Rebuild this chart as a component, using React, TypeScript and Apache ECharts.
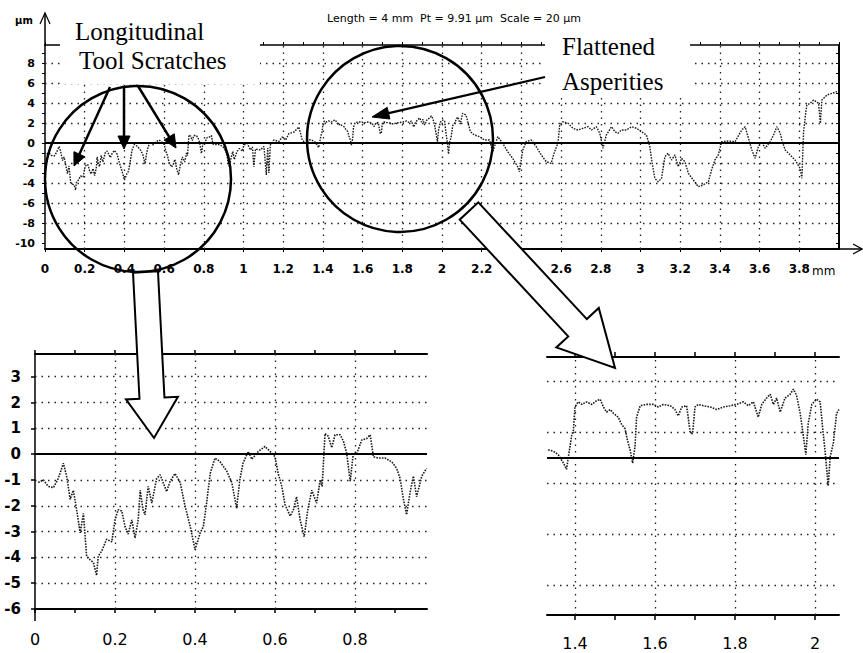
import React, { useEffect, useRef } from 'react';
import * as echarts from 'echarts';

// ---- profile data (x in mm, height in µm) ----
const leftX = [0.008, 0.021, 0.033, 0.046, 0.058, 0.071, 0.079, 0.088, 0.096, 0.104, 0.113, 0.121, 0.129, 0.138, 0.146, 0.154, 0.158, 0.167, 0.179, 0.192, 0.2, 0.208, 0.217, 0.225, 0.233, 0.242, 0.25, 0.258, 0.263, 0.27, 0.275, 0.283, 0.292, 0.304, 0.313, 0.329, 0.338, 0.35, 0.363, 0.375, 0.388, 0.4, 0.413, 0.421, 0.429, 0.438, 0.45, 0.463, 0.479, 0.492, 0.504, 0.512, 0.52, 0.533, 0.542, 0.558, 0.575, 0.588, 0.6, 0.608, 0.617, 0.625, 0.638, 0.646, 0.654, 0.663, 0.673, 0.682, 0.692, 0.704, 0.713, 0.718, 0.725, 0.733, 0.742, 0.75, 0.763, 0.771, 0.779, 0.788, 0.796, 0.804, 0.817, 0.829, 0.838, 0.846, 0.858, 0.875, 0.892, 0.904, 0.913, 0.921, 0.929, 0.938, 0.946, 0.954, 0.967, 0.979];
const leftY = [-1.1, -1.0, -1.25, -1.3, -0.95, -0.35, -0.85, -1.75, -1.4, -2.15, -3.05, -2.3, -3.95, -4.1, -4.2, -4.7, -3.95, -3.75, -3.3, -3.4, -2.55, -2.15, -2.2, -2.8, -3.1, -2.55, -3.25, -2.55, -1.4, -2.15, -2.35, -1.25, -1.9, -0.95, -0.8, -1.45, -1.05, -0.75, -1.1, -2.0, -2.8, -3.7, -3.05, -2.8, -1.9, -0.75, -0.15, -0.3, -0.65, -1.1, -2.1, -1.0, -0.35, 0.1, -0.2, 0.1, 0.3, 0.1, -0.1, -0.75, -1.25, -1.95, -2.4, -2.15, -1.65, -2.55, -3.2, -2.15, -1.4, -1.9, -1.0, -1.25, 0.8, 0.7, 0.25, 0.75, 0.75, 0.5, 0.05, -1.05, 0.05, 0.0, 0.55, 0.6, 0.75, -0.1, -0.15, -0.15, -0.3, -0.55, -0.95, -1.75, -2.35, -1.45, -0.85, -1.65, -0.85, -0.55];

const midX = [0.995, 1.002, 1.019, 1.035, 1.045, 1.052, 1.06, 1.086, 1.103, 1.115, 1.122, 1.128, 1.135, 1.153, 1.178, 1.195, 1.212, 1.229, 1.254, 1.279, 1.296, 1.313];
const midY = [-0.8, -0.2, -0.05, -0.7, -0.4, -2.4, -0.6, -0.7, -0.35, -3.2, -0.5, -3.0, -0.2, 0.3, 0.15, 0.6, 0.3, 0.95, 1.1, 1.6, 0.3, -0.03];

const rightX = [1.333, 1.346, 1.358, 1.371, 1.379, 1.383, 1.392, 1.396, 1.4, 1.408, 1.417, 1.429, 1.442, 1.454, 1.463, 1.471, 1.479, 1.488, 1.496, 1.508, 1.517, 1.525, 1.531, 1.538, 1.544, 1.55, 1.554, 1.563, 1.579, 1.596, 1.608, 1.621, 1.638, 1.65, 1.658, 1.667, 1.679, 1.688, 1.694, 1.7, 1.708, 1.721, 1.738, 1.754, 1.771, 1.788, 1.804, 1.821, 1.833, 1.846, 1.858, 1.867, 1.879, 1.888, 1.896, 1.904, 1.913, 1.925, 1.938, 1.946, 1.954, 1.963, 1.971, 1.977, 1.983, 1.992, 2.004, 2.013, 2.019, 2.025, 2.029, 2.033, 2.038, 2.046, 2.054, 2.06];
const rightY = [0.32, 0.26, 0.13, -0.2, -0.45, 0.0, 0.9, 1.1, 2.0, 2.2, 2.1, 2.2, 2.1, 2.25, 2.3, 2.0, 1.8, 1.9, 1.75, 1.6, 1.3, 1.15, 0.7, 0.3, -0.2, 0.45, 1.6, 2.05, 2.1, 2.1, 2.0, 2.1, 2.05, 1.9, 1.65, 2.0, 2.05, 1.0, 0.95, 2.0, 2.1, 2.05, 2.0, 1.9, 2.0, 2.05, 2.1, 2.2, 2.05, 2.2, 1.6, 2.1, 2.35, 2.5, 2.1, 2.35, 1.8, 2.35, 2.5, 2.7, 2.45, 1.75, 0.85, 0.13, 1.35, 2.1, 2.3, 2.2, 1.2, 0.3, -0.4, -1.1, 0.05, 0.6, 1.75, 1.9];

const farX = [2.079, 2.092, 2.104, 2.121, 2.143, 2.163, 2.189, 2.214, 2.239, 2.256, 2.281, 2.306, 2.331, 2.356, 2.381, 2.39, 2.407, 2.424, 2.449, 2.475, 2.5, 2.525, 2.55, 2.567, 2.584, 2.593, 2.609, 2.635, 2.66, 2.685, 2.71, 2.736, 2.753, 2.778, 2.795, 2.811, 2.828, 2.854, 2.871, 2.887, 2.904, 2.929, 2.955, 2.98, 3.005, 3.03, 3.047, 3.059, 3.072, 3.089, 3.106, 3.123, 3.139, 3.156, 3.173, 3.19, 3.207, 3.224, 3.241, 3.266, 3.291, 3.316, 3.342, 3.358, 3.375, 3.392, 3.409, 3.443, 3.476, 3.51, 3.527, 3.544, 3.561, 3.577, 3.594, 3.611, 3.628, 3.653, 3.67, 3.687, 3.704, 3.712, 3.729, 3.754, 3.779, 3.804, 3.813, 3.821, 3.83, 3.838, 3.855, 3.872, 3.897, 3.906, 3.914, 3.939, 3.965, 3.99];
const farY = [2.6, 1.9, 2.97, 2.8, 1.13, 0.8, 0.63, 0.3, 0.3, -0.87, 0.63, -0.03, -0.87, -1.53, -2.37, -2.87, -0.7, 0.13, 0.3, -0.37, -1.2, -1.87, -2.03, -0.87, -0.03, 1.8, 2.13, 1.97, 1.47, 1.3, 1.47, 1.63, 1.3, 1.63, 0.97, -0.53, 0.8, 1.63, 1.13, 0.97, 1.3, 1.3, 1.63, 1.47, 1.13, 0.8, -0.37, -2.03, -3.53, -3.87, -3.53, -1.37, -1.03, -1.7, -1.2, -2.37, -1.53, -1.87, -3.03, -3.7, -4.37, -4.2, -3.87, -2.7, -1.7, -1.2, 0.13, 0.2, 0.13, 1.3, 1.63, 0.47, -0.7, -1.53, -0.37, 0.13, -0.53, 0.13, 0.8, 1.63, 0.97, 0.3, -0.7, -1.2, -1.7, -2.53, -3.53, 0.97, 2.63, 3.8, 3.97, 4.3, 3.97, 1.97, 4.3, 4.8, 4.97, 5.13];

// ---- axis tick / label values ----
const topXLabels = [0, 0.2, 0.4, 0.6, 0.8, 1, 1.2, 1.4, 1.6, 1.8, 2, 2.2, 2.4, 2.6, 2.8, 3, 3.2, 3.4, 3.6, 3.8];
const topYLabels = [-10, -8, -6, -4, -2, 0, 2, 4, 6, 8];
const leftXLabels = [0, 0.2, 0.4, 0.6, 0.8];
const leftYLabels = [-6, -5, -4, -3, -2, -1, 0, 1, 2, 3];
const rightXLabels = [1.4, 1.6, 1.8, 2];

const topGridY = [8, 6, 4, 2, -2, -4, -6, -8];
const topGridX = [0.2, 0.4, 0.6, 0.8, 1, 1.2, 1.4, 1.6, 1.8, 2, 2.2, 2.4, 2.6, 2.8, 3, 3.2, 3.4, 3.6, 3.8];
const leftGridY = [3, 2, 1, -1, -2, -3, -4, -5];
const leftGridX = [0.2, 0.4, 0.6, 0.8];
const rightGridY = [3, 1, -1, -3, -5];
const rightGridX = [1.4, 1.6, 1.8, 2];

const TITLE = 'Length = 4 mm  Pt = 9.91 µm  Scale = 20 µm';

function range(a: number, b: number, s: number) {
  const out: number[] = [];
  for (let v = a; v <= b + 1e-9; v += s) out.push(Math.round(v * 1000) / 1000);
  return out;
}
function zip(xs: number[], ys: number[]) {
  return xs.map((x, i) => [x, ys[i]]);
}

function hollowArrow(x0: number, y0: number, x1: number, y1: number, sw: number, hw: number, hl: number) {
  const dx = x1 - x0, dy = y1 - y0, L = Math.hypot(dx, dy);
  const ux = dx / L, uy = dy / L, nx = -uy, ny = ux;
  const bx = x1 - ux * hl, by = y1 - uy * hl;
  return [
    [x0 + nx * sw, y0 + ny * sw], [bx + nx * sw, by + ny * sw], [bx + nx * hw, by + ny * hw],
    [x1, y1],
    [bx - nx * hw, by - ny * hw], [bx - nx * sw, by - ny * sw], [x0 - nx * sw, y0 - ny * sw],
  ];
}
function solidArrow(x0: number, y0: number, x1: number, y1: number, hl: number, hw: number, lw: number) {
  const dx = x1 - x0, dy = y1 - y0, L = Math.hypot(dx, dy);
  const ux = dx / L, uy = dy / L, nx = -uy, ny = ux;
  const bx = x1 - ux * hl, by = y1 - uy * hl;
  return [
    { type: 'line', z: 100, shape: { x1: x0, y1: y0, x2: bx + ux * 2, y2: by + uy * 2 }, style: { stroke: '#000', lineWidth: lw } },
    { type: 'polygon', z: 100, shape: { points: [[x1, y1], [bx + nx * hw, by + ny * hw], [bx - nx * hw, by - ny * hw]] }, style: { fill: '#000', stroke: '#000', lineWidth: 1 } },
  ];
}

const dotted = { color: '#222', width: 1.3, type: [1.5, 5] as any };

function gridMarks(xs: number[], ys: number[]) {
  return {
    silent: true,
    symbol: ['none', 'none'],
    label: { show: false },
    animation: false,
    data: [
      ...ys.map((v) => ({ yAxis: v, lineStyle: dotted })),
      ...xs.map((v) => ({ xAxis: v, lineStyle: dotted })),
      { yAxis: 0, lineStyle: { color: '#000', width: 2, type: 'solid' } },
    ],
  };
}

const sans = 'DejaVu Sans';
const serif = 'Liberation Serif';

export default function App() {
  const ref = useRef<HTMLDivElement>(null);
  useEffect(() => {
    if (!ref.current) return;
    const chart = echarts.init(ref.current, undefined, { renderer: 'svg' });

    const topData = zip([...leftX, ...midX, ...rightX, ...farX], [...leftY, ...midY, ...rightY, ...farY]);
    const leftData = zip(leftX, leftY);
    const rightData = zip(rightX, rightY);

    const lineStyle = { color: '#1a1a1a', width: 1.4, type: [1.6, 1.2] as any };

    const baseX = (extra: any) => ({
      type: 'value',
      splitLine: { show: false },
      axisLine: { show: true, onZero: false, lineStyle: { color: '#000', width: 2 } },
      ...extra,
    });

    const graphic: any[] = [
      { type: 'rect', z: 50, shape: { x: 60, y: 6, width: 200, height: 78 }, style: { fill: '#fff' } },
      { type: 'rect', z: 50, shape: { x: 545, y: 26, width: 145, height: 72 }, style: { fill: '#fff' } },
      { type: 'text', z: 100, x: 454, y: 18, style: { text: TITLE, fontSize: 11, fontFamily: sans, fill: '#000', align: 'center', verticalAlign: 'middle' } },
      { type: 'text', z: 100, x: 24, y: 20, style: { text: 'µm', fontSize: 10, fontWeight: 'bold', fontFamily: sans, fill: '#000', align: 'center', verticalAlign: 'middle' } },
      { type: 'text', z: 100, x: 812, y: 271, style: { text: 'mm', fontSize: 12, fontFamily: sans, fill: '#000', align: 'left', verticalAlign: 'middle' } },
      { type: 'line', z: 100, shape: { x1: 45, y1: 13, x2: 45, y2: 46 }, style: { stroke: '#000', lineWidth: 1.5 } },
      { type: 'polyline', z: 100, shape: { points: [[40, 24], [45, 13], [50, 24]] }, style: { stroke: '#000', lineWidth: 1.2, fill: 'none' } },
      { type: 'line', z: 100, shape: { x1: 839, y1: 249, x2: 861, y2: 249 }, style: { stroke: '#000', lineWidth: 1.5 } },
      { type: 'polyline', z: 100, shape: { points: [[853, 244], [862, 249], [853, 254]] }, style: { stroke: '#000', lineWidth: 1.2, fill: 'none' } },
      { type: 'line', z: 100, shape: { x1: 35, y1: 609, x2: 35, y2: 621 }, style: { stroke: '#000', lineWidth: 1.5 } },
      { type: 'text', z: 100, x: 75, y: 31, style: { text: 'Longitudinal', fontSize: 25, fontFamily: serif, fill: '#000', align: 'left', verticalAlign: 'middle' } },
      { type: 'text', z: 100, x: 79, y: 60, style: { text: 'Tool Scratches', fontSize: 25, fontFamily: serif, fill: '#000', align: 'left', verticalAlign: 'middle' } },
      { type: 'text', z: 100, x: 562, y: 46, style: { text: 'Flattened', fontSize: 25, fontFamily: serif, fill: '#000', align: 'left', verticalAlign: 'middle' } },
      { type: 'text', z: 100, x: 562, y: 81, style: { text: 'Asperities', fontSize: 25, fontFamily: serif, fill: '#000', align: 'left', verticalAlign: 'middle' } },
      { type: 'circle', z: 100, shape: { cx: 138, cy: 179, r: 93 }, style: { fill: 'none', stroke: '#000', lineWidth: 2.5 } },
      { type: 'circle', z: 100, shape: { cx: 400, cy: 139, r: 93 }, style: { fill: 'none', stroke: '#000', lineWidth: 2.5 } },
      { type: 'polygon', z: 110, shape: { points: hollowArrow(145.5, 272, 154, 438, 12.5, 26, 40) }, style: { fill: '#fff', stroke: '#000', lineWidth: 2 } },
      { type: 'polygon', z: 110, shape: { points: hollowArrow(469, 211, 615, 368, 12.7, 29, 55) }, style: { fill: '#fff', stroke: '#000', lineWidth: 2 } },
      ...solidArrow(110, 87, 74, 166, 13, 6, 2.5),
      ...solidArrow(124, 86, 124, 149, 13, 6, 2.5),
      ...solidArrow(138, 86, 176, 148, 13, 6, 2.5),
      ...solidArrow(545, 77, 372, 117, 17, 6, 2.2),
    ];

    chart.setOption({
      animation: false,
      backgroundColor: '#fff',
      grid: [
        { left: 45, top: 45, width: 794, height: 204 },
        { left: 35, top: 354, width: 392, height: 255 },
        { left: 547, top: 357, width: 292, height: 258 },
      ],
      xAxis: [
        baseX({
          gridIndex: 0, position: 'bottom', min: 0, max: 4,
          axisTick: { show: true, length: 3, customValues: topXLabels, lineStyle: { color: '#000' } },
          axisLabel: { customValues: topXLabels, fontSize: 12, fontWeight: 'bold', fontFamily: sans, color: '#000', margin: 14, formatter: (v: number) => String(v) },
        }),
        baseX({
          gridIndex: 0, position: 'top', min: 0, max: 4,
          axisLine: { show: true, onZero: false, lineStyle: { color: '#000', width: 1.5 } },
          axisTick: { show: true, length: 3, customValues: range(0, 4, 0.1), lineStyle: { color: '#000' } },
          axisLabel: { show: false },
        }),
        baseX({
          gridIndex: 1, position: 'bottom', min: 0, max: 0.98,
          axisTick: { show: true, length: 4, customValues: range(0, 0.9, 0.1), lineStyle: { color: '#000', width: 1.5 } },
          axisLabel: { customValues: leftXLabels, fontSize: 16, fontFamily: sans, color: '#000', margin: 22, formatter: (v: number) => String(v) },
        }),
        baseX({
          gridIndex: 1, position: 'top', min: 0, max: 0.98,
          axisTick: { show: true, length: 4, customValues: range(0, 0.9, 0.1), lineStyle: { color: '#000', width: 1.5 } },
          axisLabel: { show: false },
        }),
        baseX({
          gridIndex: 2, position: 'bottom', min: 1.33, max: 2.06,
          axisTick: { show: true, length: 5, customValues: range(1.4, 2.0, 0.1), lineStyle: { color: '#000', width: 1.5 } },
          axisLabel: { customValues: rightXLabels, fontSize: 16, fontFamily: sans, color: '#000', margin: 20, formatter: (v: number) => String(v) },
        }),
        baseX({
          gridIndex: 2, position: 'top', min: 1.33, max: 2.06,
          axisTick: { show: true, length: 5, customValues: range(1.4, 2.0, 0.1), lineStyle: { color: '#000', width: 1.5 } },
          axisLabel: { show: false },
        }),
      ],
      yAxis: [
        {
          type: 'value', gridIndex: 0, position: 'left', min: -10.6, max: 9.8,
          splitLine: { show: false },
          axisLine: { show: true, onZero: false, lineStyle: { color: '#000', width: 1.5 } },
          axisTick: { show: true, length: 3, customValues: range(-10, 9, 1), lineStyle: { color: '#000' } },
          axisLabel: { customValues: topYLabels, fontSize: 11, fontWeight: 'bold', fontFamily: sans, color: '#000', margin: 10 },
        },
        {
          type: 'value', gridIndex: 0, position: 'right', min: -10.6, max: 9.8,
          splitLine: { show: false },
          axisLine: { show: true, onZero: false, lineStyle: { color: '#000', width: 2 } },
          axisTick: { show: true, inside: true, length: 3, customValues: range(-10, 9, 1), lineStyle: { color: '#000' } },
          axisLabel: { show: false },
        },
        {
          type: 'value', gridIndex: 1, position: 'left', min: -6, max: 3.88,
          splitLine: { show: false },
          axisLine: { show: true, onZero: false, lineStyle: { color: '#000', width: 1.5 } },
          axisTick: { show: true, length: 4, customValues: leftYLabels, lineStyle: { color: '#000', width: 1.5 } },
          axisLabel: { customValues: leftYLabels, fontSize: 15, fontWeight: 'bold', fontFamily: sans, color: '#000', margin: 14 },
        },
        {
          type: 'value', gridIndex: 2, position: 'left', min: -6.16, max: 3.96,
          splitLine: { show: false },
          axisLine: { show: false },
          axisTick: { show: false },
          axisLabel: { show: false },
        },
      ],
      series: [
        {
          type: 'line', xAxisIndex: 0, yAxisIndex: 0, data: topData, showSymbol: false, symbol: 'none',
          lineStyle, markLine: gridMarks(topGridX, topGridY), z: 3,
        },
        {
          type: 'line', xAxisIndex: 2, yAxisIndex: 2, data: leftData, showSymbol: false, symbol: 'none',
          lineStyle: { ...lineStyle, width: 1.6 }, markLine: gridMarks(leftGridX, leftGridY), z: 3,
        },
        {
          type: 'line', xAxisIndex: 4, yAxisIndex: 3, data: rightData, showSymbol: false, symbol: 'none',
          lineStyle: { ...lineStyle, width: 1.6 }, markLine: gridMarks(rightGridX, rightGridY), z: 3,
        },
      ],
      graphic,
    });
    return () => chart.dispose();
  }, []);
  return <div ref={ref} style={{ position: 'absolute', left: 0, top: 0, width: 863, height: 653 }} />;
}
